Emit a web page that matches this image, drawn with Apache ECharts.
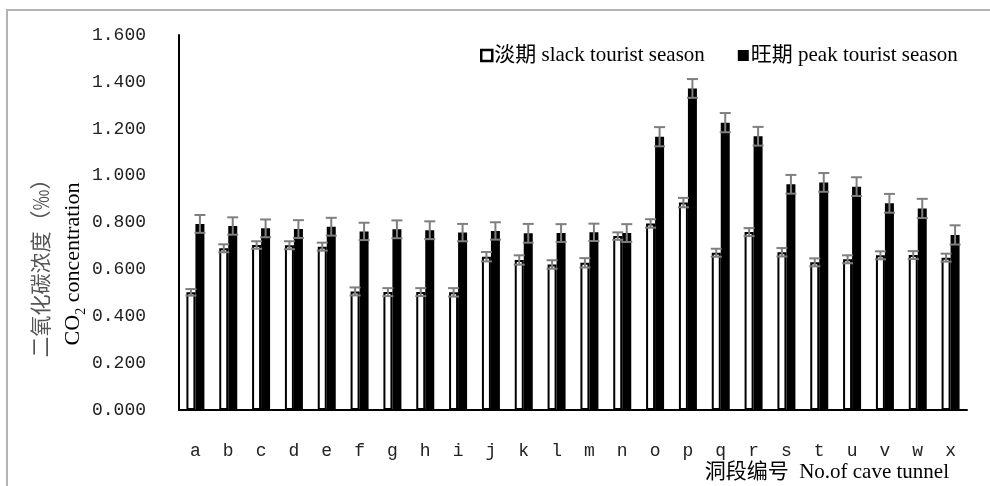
<!DOCTYPE html>
<html><head><meta charset="utf-8">
<script src="https://cdn.jsdelivr.net/npm/echarts@6/dist/echarts.min.js"></script>
<style>html,body{margin:0;padding:0;background:#fff}#c{width:990px;height:486px}</style>
</head><body><div id="c"></div>
<script>
var categories = ['a','b','c','d','e','f','g','h','i','j','k','l','m','n','o','p','q','r','s','t','u','v','w','x'];
var slackValues = [0.502,0.690,0.704,0.703,0.697,0.506,0.503,0.503,0.502,0.654,0.640,0.621,0.628,0.742,0.796,0.885,0.671,0.759,0.673,0.630,0.643,0.660,0.661,0.650];
var slackErrors = [0.014,0.017,0.016,0.017,0.017,0.017,0.017,0.017,0.018,0.020,0.020,0.018,0.020,0.016,0.018,0.020,0.017,0.017,0.018,0.017,0.017,0.017,0.017,0.017];
var peakValues = [0.794,0.785,0.775,0.772,0.782,0.762,0.771,0.767,0.757,0.764,0.754,0.755,0.758,0.755,1.166,1.372,1.226,1.168,0.963,0.971,0.953,0.882,0.860,0.747];
var peakErrors = [0.038,0.037,0.038,0.038,0.038,0.037,0.038,0.038,0.037,0.037,0.040,0.038,0.037,0.038,0.041,0.040,0.041,0.040,0.040,0.040,0.040,0.040,0.041,0.041];
var seriesNames = ['淡期 slack tourist season','旺期 peak tourist season'];
var yTicks = {min:0, max:1.6, interval:0.2};

var BW = 9;
var chart = echarts.init(document.getElementById('c'), null, {renderer:'canvas'});
function errData(vals, errs){ return vals.map(function(v,i){ return [i, v, errs[i]]; }); }
function errRender(offset){
  return function(params, api){
    var i = api.value(0), v = api.value(1), e = api.value(2);
    var top = api.coord([i, v + e]);
    var bot = api.coord([i, v - e]);
    var x = top[0] + offset;
    var half = 5.5;
    var st = {stroke:'#7f7f7f', lineWidth:2};
    return {type:'group', children:[
      {type:'line', shape:{x1:x, y1:top[1], x2:x, y2:bot[1]}, style:st},
      {type:'line', shape:{x1:x-half, y1:top[1], x2:x+half, y2:top[1]}, style:st},
      {type:'line', shape:{x1:x-half, y1:bot[1], x2:x+half, y2:bot[1]}, style:st}
    ]};
  };
}
var numFont = 'Liberation Mono';
var txtFont = 'Liberation Serif, Noto Sans CJK SC';
chart.setOption({
  animation:false,
  backgroundColor:'#fff',
  grid:{left:179, right:23, top:35, bottom:76, containLabel:false},
  legend:{
    left:475, top:40, itemWidth:11, itemHeight:11, itemGap:33,
    textStyle:{fontFamily:txtFont, fontSize:21, color:'#000', padding:[0,0,0,-3]},
    data:[
      {name:seriesNames[0], icon:'rect', itemStyle:{color:'#fff', borderColor:'#000', borderWidth:2.5}},
      {name:seriesNames[1], icon:'rect', itemStyle:{color:'#000', borderWidth:0}}
    ]
  },
  xAxis:{
    type:'category', data:categories,
    axisLine:{lineStyle:{color:'#000', width:2}},
    axisTick:{show:false},
    axisLabel:{fontFamily:numFont, fontSize:18, color:'#222', margin:32},
    name:'洞段编号  No.of cave tunnel', nameLocation:'end',
    nameTextStyle:{fontFamily:txtFont, fontSize:21, color:'#000', align:'right', verticalAlign:'top', padding:[52,18,0,0]},
    nameGap:0
  },
  yAxis:{
    type:'value', min:yTicks.min, max:yTicks.max, interval:yTicks.interval,
    axisLine:{show:true, lineStyle:{color:'#000', width:2}},
    axisTick:{show:false},
    splitLine:{show:false},
    axisLabel:{fontFamily:numFont, fontSize:18, color:'#222', margin:33,
      formatter:function(v){ return v.toFixed(3); }}
  },
  graphic:[
    {type:'rect', silent:true, z:-1, shape:{x:7, y:10, width:1000, height:500},
     style:{fill:'none', stroke:'#b3b3b3', lineWidth:2}},
    {type:'text', x:40, y:263, rotation:Math.PI/2,
     style:{text:'二氧化碳浓度（‰）', font:'21px Noto Sans CJK SC', fill:'#555', align:'center', verticalAlign:'middle'}},
    {type:'text', x:72, y:264, rotation:Math.PI/2,
     style:{text:'{a|CO}{s|2}{a| concentration}', align:'center', verticalAlign:'middle',
       rich:{a:{fontFamily:'Liberation Serif', fontSize:22, fill:'#000', lineHeight:24, verticalAlign:'bottom'},
             s:{fontFamily:'Liberation Serif', fontSize:14, fill:'#000', lineHeight:14, verticalAlign:'bottom', padding:[0,0,-4,0]}}}}
  ],
  series:[
    {name:seriesNames[0], type:'bar', data:slackValues, barWidth:BW, barGap:'0%',
     itemStyle:{color:'#fff', borderColor:'#000', borderWidth:2}, z:2},
    {name:seriesNames[1], type:'bar', data:peakValues, barWidth:BW, barGap:'0%',
     itemStyle:{color:'#000'}, z:3},
    {type:'custom', name:'e1', data:errData(slackValues, slackErrors), renderItem:errRender(-BW/2),
     encode:{x:0, y:1}, z:5, silent:true},
    {type:'custom', name:'e2', data:errData(peakValues, peakErrors), renderItem:errRender(BW/2),
     encode:{x:0, y:1}, z:5, silent:true}
  ]
});
</script></body></html>
